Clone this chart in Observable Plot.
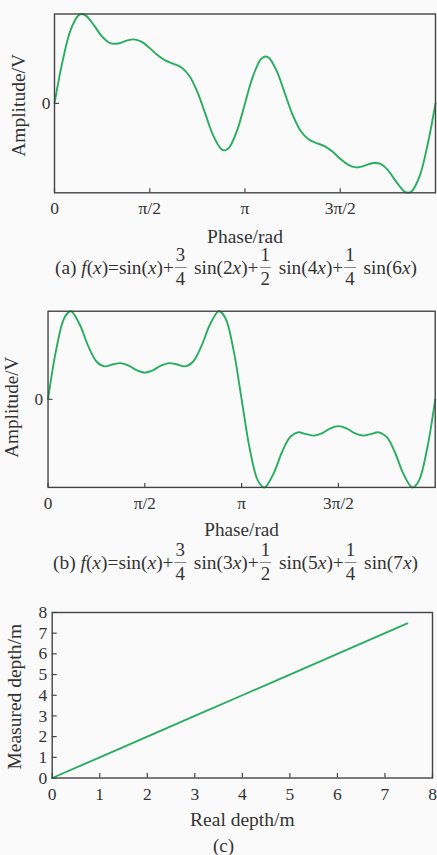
<!DOCTYPE html>
<html>
<head>
<meta charset="utf-8">
<script src="https://cdn.jsdelivr.net/npm/d3@7"></script>
<script src="https://cdn.jsdelivr.net/npm/@observablehq/plot@0.6"></script>
<style>
  html, body { margin: 0; padding: 0; }
  body { width: 437px; height: 855px; overflow: hidden; position: relative; background: #fafafa;
         font-family: "Liberation Serif", "Times New Roman", serif; color: #333; }
  .panel { position: absolute; left: 0; }
  .cap { position: absolute; white-space: nowrap; font-size: 19.5px; line-height: 20px; transform-origin: 0 0; }
  .frac { display: inline-block; vertical-align: middle; text-align: center; font-size: 19px; line-height: 20px; margin: 0 3px 0 1px; position: relative; }
  .frac > span { display: block; padding: 0 1px; }
  .frac > span:first-child { border-bottom: 1px solid #888; padding-bottom: 2px; }
  .frac > span:last-child { padding-top: 1px; }
</style>
</head>
<body>
<div id="pa" class="panel" style="top:0;"></div>
<div id="pb" class="panel" style="top:295px;"></div>
<div id="pc" class="panel" style="top:600px;"></div>
<div class="cap" id="capA" style="left:55px;top:248px"><span class="main">(a) <i>f</i>(<i>x</i>)=sin(<i>x</i>)+</span><span class="frac"><span>3</span><span>4</span></span> sin(2<i>x</i>)+<span class="frac"><span>1</span><span>2</span></span> sin(4<i>x</i>)+<span class="frac"><span>1</span><span>4</span></span> sin(6<i>x</i>)</div>
<div class="cap" id="capB" style="left:53px;top:543px"><span class="main">(b) <i>f</i>(<i>x</i>)=sin(<i>x</i>)+</span><span class="frac"><span>3</span><span>4</span></span> sin(3<i>x</i>)+<span class="frac"><span>1</span><span>2</span></span> sin(5<i>x</i>)+<span class="frac"><span>1</span><span>4</span></span> sin(7<i>x</i>)</div>
<div class="cap" id="capC" style="left:213px;top:836px;font-size:19px">(c)</div>
<script>
// ---- data ----
const phaseA = [0, 0.1309, 0.2618, 0.3927, 0.452, 0.5236, 0.6545, 0.7854, 0.9163, 1.0472, 1.1781, 1.3090, 1.4399, 1.5708,
  1.7017, 1.8326, 1.9635, 2.0944, 2.2253, 2.3562, 2.4871, 2.6180, 2.7489, 2.808, 2.8798, 3.0107, 3.1416,
  3.2725, 3.4034, 3.475, 3.5343, 3.6652, 3.7961, 3.9270, 4.0579, 4.1888, 4.3197, 4.4506, 4.5815, 4.7124,
  4.8433, 4.9742, 5.1051, 5.2360, 5.3669, 5.4978, 5.6287, 5.7596, 5.831, 5.8905, 6.0214, 6.1523, 6.2832];
const amplitudeA = [0, 0.751, 1.317, 1.590, 1.616, 1.583, 1.406, 1.207, 1.091, 1.083, 1.131, 1.158, 1.112, 1.000,
  0.871, 0.774, 0.717, 0.650, 0.496, 0.207, -0.189, -0.583, -0.824, -0.849, -0.799, -0.490, 0,
  0.490, 0.799, 0.849, 0.824, 0.583, 0.189, -0.207, -0.496, -0.650, -0.717, -0.774, -0.871, -1.000,
  -1.112, -1.158, -1.131, -1.083, -1.091, -1.207, -1.406, -1.583, -1.616, -1.590, -1.317, -0.751, 0];

const phaseB = [0, 0.1309, 0.2618, 0.360, 0.3927, 0.5236, 0.6545, 0.7854, 0.9163, 1.0472, 1.1781, 1.3090, 1.4399, 1.5708,
  1.7017, 1.8326, 1.9635, 2.0944, 2.2253, 2.3562, 2.4871, 2.6180, 2.7489, 2.782, 2.8798, 3.0107, 3.1416,
  3.2725, 3.4034, 3.502, 3.5343, 3.6652, 3.7961, 3.9270, 4.0579, 4.1888, 4.3197, 4.4506, 4.5815, 4.7124,
  4.8433, 4.9742, 5.1051, 5.2360, 5.3669, 5.4978, 5.6287, 5.7596, 5.8905, 5.923, 6.0214, 6.1523, 6.2832];
const amplitudeB = [0, 0.920, 1.514, 1.646, 1.633, 1.375, 0.989, 0.707, 0.617, 0.650, 0.677, 0.630, 0.543, 0.500,
  0.543, 0.630, 0.677, 0.650, 0.617, 0.707, 0.989, 1.375, 1.633, 1.646, 1.514, 0.920, 0,
  -0.920, -1.514, -1.646, -1.633, -1.375, -0.989, -0.707, -0.617, -0.650, -0.677, -0.630, -0.543, -0.500,
  -0.543, -0.630, -0.677, -0.650, -0.617, -0.707, -0.989, -1.375, -1.633, -1.646, -1.514, -0.920, 0];

const phaseTicks = [0, Math.PI / 2, Math.PI, 3 * Math.PI / 2];
const phaseTickLabels = ["0", "π/2", "π", "3π/2"];
const amplitudeTicks = [0];

const realDepth = [0, 1, 2, 3, 4, 5, 6, 7, 7.47];
const measuredDepth = [0, 1, 2, 3, 4, 5, 6, 7, 7.47];
const depthTicks = [0, 1, 2, 3, 4, 5, 6, 7, 8];

// ---- styling ----
const GREEN = "#27ad5e";
const FRAME = "#444";
const FONT = "Liberation Serif, Times New Roman, serif";

function wavePanel({phase, amp, width, height, mL, mR, mT, mB, yMax, yLabelDx, yLabelDy, yLabelSpacing, tickPad, yTickPad, xLabelDy}) {
  const data = phase.map((p, i) => ({p, a: amp[i]}));
  const ph = height - mT - mB;
  const pw = width - mL - mR;
  return Plot.plot({
    width, height,
    marginLeft: mL, marginRight: mR, marginTop: mT, marginBottom: mB,
    style: {background: "transparent", fontFamily: FONT, fontSize: "17px", color: "#333", overflow: "visible"},
    x: {domain: [0, 2 * Math.PI]},
    y: {domain: [-yMax, yMax]},
    marks: [
      Plot.gridX(phaseTicks, {stroke: FRAME, strokeOpacity: 1, strokeWidth: 1.2, insetTop: ph - 4}),
      Plot.gridY(amplitudeTicks, {stroke: FRAME, strokeOpacity: 1, strokeWidth: 1.2, insetRight: pw - 5}),
      Plot.line(data, {x: "p", y: "a", curve: "catmull-rom", stroke: GREEN, strokeWidth: 1.9}),
      Plot.frame({stroke: FRAME, strokeWidth: 1.4}),
      Plot.axisX(phaseTicks, {tickSize: 0, tickPadding: tickPad, label: null,
        tickFormat: d => phaseTickLabels[phaseTicks.indexOf(d)], fontSize: 17.5, fill: "#333"}),
      Plot.axisY(amplitudeTicks, {tickSize: 0, tickPadding: yTickPad, label: null, tickFormat: d => String(d), fontSize: 17.5, fill: "#333"}),
      Plot.text(["Phase/rad"], {text: d => d, frameAnchor: "bottom", lineAnchor: "middle", textAnchor: "middle",
        dy: xLabelDy, fontSize: 19.5, fill: "#333", style: "letter-spacing:0.45px"}),
      Plot.text(["Amplitude/V"], {text: d => d, frameAnchor: "left", lineAnchor: "middle", textAnchor: "middle",
        dx: yLabelDx, dy: yLabelDy, rotate: -90, fontSize: 19.5, fill: "#333", style: `letter-spacing:${yLabelSpacing}px`})
    ]
  });
}

document.getElementById("pa").append(wavePanel({
  phase: phaseA, amp: amplitudeA, width: 437, height: 235,
  mL: 54, mR: 2, mT: 13.5, mB: 42.7, yMax: 1.617,
  yLabelDx: -36, yLabelDy: 2, yLabelSpacing: 1.8, tickPad: 8.5, yTickPad: 4, xLabelDy: 43.5
}));

document.getElementById("pb").append(wavePanel({
  phase: phaseB, amp: amplitudeB, width: 444, height: 240,
  mL: 48.3, mR: 2.3, mT: 16, mB: 45, yMax: 1.646,
  yLabelDx: -36.3, yLabelDy: 8, yLabelSpacing: 1.2, tickPad: 9.4, yTickPad: 5, xLabelDy: 43.5
}));

// panel (c)
{
  const data = realDepth.map((r, i) => ({r, m: measuredDepth[i]}));
  const width = 437, height = 235, mL = 51.7, mR = 5, mT = 12, mB = 57.5;
  const ph = height - mT - mB, pw = width - mL - mR;
  const plot = Plot.plot({
    width, height,
    marginLeft: mL, marginRight: mR, marginTop: mT, marginBottom: mB,
    style: {background: "transparent", fontFamily: FONT, fontSize: "17px", color: "#333", overflow: "visible"},
    x: {domain: [0, 8]},
    y: {domain: [0, 8]},
    marks: [
      Plot.gridX(depthTicks, {stroke: FRAME, strokeOpacity: 1, strokeWidth: 1.2, insetTop: ph - 4.5}),
      Plot.gridY(depthTicks, {stroke: FRAME, strokeOpacity: 1, strokeWidth: 1.2, insetRight: pw - 5}),
      Plot.line(data, {x: "r", y: "m", stroke: GREEN, strokeWidth: 1.9}),
      Plot.frame({stroke: FRAME, strokeWidth: 1.4}),
      Plot.axisX(depthTicks, {tickSize: 0, tickPadding: 9.3, label: null, tickFormat: d => String(d), fontSize: 17.5, fill: "#333"}),
      Plot.axisY(depthTicks, {tickSize: 0, tickPadding: 5, label: null, tickFormat: d => String(d), fontSize: 17.5, fill: "#333"}),
      Plot.text(["Real depth/m"], {text: d => d, frameAnchor: "bottom", lineAnchor: "middle", textAnchor: "middle",
        dy: 41.5, fontSize: 19.5, fill: "#333", style: "letter-spacing:0.4px;word-spacing:3px"}),
      Plot.text(["Measured depth/m"], {text: d => d, frameAnchor: "left", lineAnchor: "middle", textAnchor: "middle",
        dx: -37.7, dy: 1.5, rotate: -90, fontSize: 19.5, fill: "#333", style: "letter-spacing:1.4px"})
    ]
  });
  document.getElementById("pc").append(plot);
}

// align the stacked fractions (denominator sits below the text line) and
// stretch the captions to the reference widths
for (const [id, target] of [["capA", 362], ["capB", 365]]) {
  const el = document.getElementById(id);
  const mr = el.querySelector(".main").getBoundingClientRect();
  const mainCenter = mr.top + mr.height / 2;
  for (const fr of el.querySelectorAll(".frac")) {
    const dr = fr.lastElementChild.getBoundingClientRect();
    const shift = (mainCenter + 11) - (dr.top + dr.height / 2);
    fr.style.top = shift + "px";
  }
  const w = el.getBoundingClientRect().width;
  el.style.transform = `scaleX(${target / w})`;
}
</script>
</body>
</html>
